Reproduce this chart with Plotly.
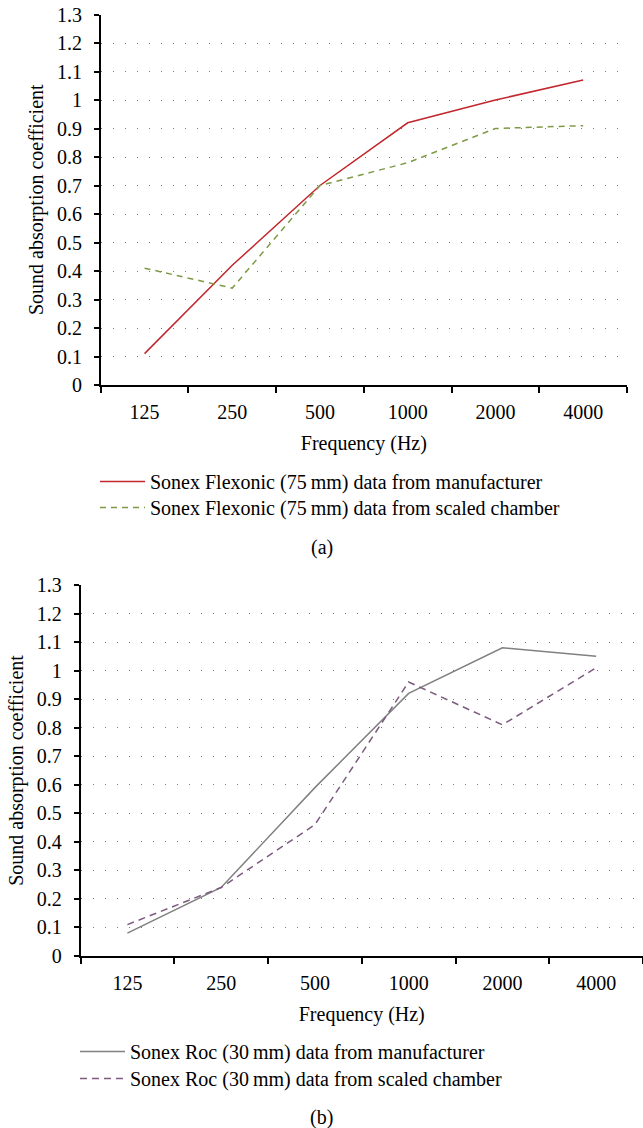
import plotly.graph_objects as go

freqs = ["125", "250", "500", "1000", "2000", "4000"]
flex_manu = [0.11, 0.42, 0.70, 0.92, 1.00, 1.07]
flex_scaled = [0.41, 0.34, 0.70, 0.78, 0.90, 0.91]
roc_manu = [0.08, 0.24, 0.59, 0.92, 1.08, 1.05]
roc_scaled = [0.11, 0.24, 0.46, 0.96, 0.81, 1.01]
yticks = [round(i * 0.1, 1) for i in range(14)]
yticktext = ["0", "0.1", "0.2", "0.3", "0.4", "0.5", "0.6", "0.7", "0.8", "0.9", "1", "1.1", "1.2", "1.3"]

W, H = 643, 1128
FONT = "Liberation Serif"
FS = 20

fig = go.Figure()
fig.add_trace(go.Scatter(x=freqs, y=flex_manu, mode="lines", xaxis="x", yaxis="y",
                         name="Sonex Flexonic (75\u2009mm) data from manufacturer",
                         line=dict(color="#C1272D", width=1.5), legend="legend",
                         showlegend=True))
fig.add_trace(go.Scatter(x=freqs, y=flex_scaled, mode="lines", xaxis="x", yaxis="y",
                         name="Sonex Flexonic (75\u2009mm) data from scaled chamber",
                         line=dict(color="#7E9A45", width=1.5, dash="6px,5px"), legend="legend2",
                         showlegend=True))
fig.add_trace(go.Scatter(x=freqs, y=roc_manu, mode="lines", xaxis="x2", yaxis="y2",
                         name="Sonex Roc (30\u2009mm) data from manufacturer",
                         line=dict(color="#808080", width=1.5), legend="legend3",
                         showlegend=True))
fig.add_trace(go.Scatter(x=freqs, y=roc_scaled, mode="lines", xaxis="x2", yaxis="y2",
                         name="Sonex Roc (30\u2009mm) data from scaled chamber",
                         line=dict(color="#7D5A80", width=1.5, dash="7px,5px"), legend="legend4",
                         showlegend=True))

def py(p):
    return 1 - p / H

def px(p):
    return p / W

xcommon = dict(type="category", categoryorder="array", categoryarray=freqs,
               range=[-0.5, 5.5], tickson="boundaries", ticks="outside", ticklen=6,
               tickcolor="black", tickwidth=1.5, showline=True, linecolor="black",
               linewidth=1.5, showgrid=False, zeroline=False, automargin=False,
               ticklabelstandoff=8,
               tickfont=dict(family=FONT, size=FS, color="black"),
               title=dict(text="Frequency (Hz)", font=dict(family=FONT, size=FS, color="black"),
                          standoff=14))
ycommon = dict(range=[0, 1.3], tickvals=yticks, ticktext=yticktext, ticks="outside",
               ticklen=5, tickcolor="black", tickwidth=1.5, showline=True,
               linecolor="black", linewidth=1.5, showgrid=True, gridcolor="#777777",
               gridwidth=1.3, griddash="1.3px,10.7px", zeroline=False, automargin=False,
               ticklabelstandoff=8,
               tickfont=dict(family=FONT, size=FS, color="black"),
               title=dict(text="Sound absorption coefficient",
                          font=dict(family=FONT, size=FS, color="black"), standoff=8))

def legend_at(x, top):
    return dict(x=px(x), y=py(top), xanchor="left", yanchor="top",
                font=dict(family=FONT, size=FS, color="black"), bgcolor="rgba(0,0,0,0)",
                tracegroupgap=0, itemwidth=45, visible=True)

fig.update_layout(
    width=W, height=H, margin=dict(l=0, r=0, t=0, b=0, autoexpand=False),
    paper_bgcolor="white", plot_bgcolor="white", showlegend=True,
    font=dict(family=FONT, size=FS, color="black"),
    xaxis=dict(domain=[px(100.7), px(627)], anchor="y", **xcommon),
    yaxis=dict(domain=[py(385), py(14.5)], anchor="x", **ycommon),
    xaxis2=dict(domain=[px(80.5), 1.0], anchor="y2", **xcommon),
    yaxis2=dict(domain=[py(956), py(585)], anchor="x2", **ycommon),
    legend=legend_at(95, 462),
    legend2=legend_at(95, 488),
    legend3=legend_at(75, 1032),
    legend4=legend_at(75, 1059),
    annotations=[
        dict(text="(a)", x=0.5, y=py(547), xref="paper", yref="paper", showarrow=False,
             font=dict(family=FONT, size=FS, color="black"), xanchor="center", yanchor="middle"),
        dict(text="(b)", x=0.5, y=py(1117), xref="paper", yref="paper", showarrow=False,
             font=dict(family=FONT, size=FS, color="black"), xanchor="center", yanchor="middle"),
    ],
)

fig.write_html(
    "out.html",
    config={"displayModeBar": False},
    post_script="document.body.style.margin='0';document.body.style.padding='0';"
                "document.documentElement.style.overflow='hidden';",
)
